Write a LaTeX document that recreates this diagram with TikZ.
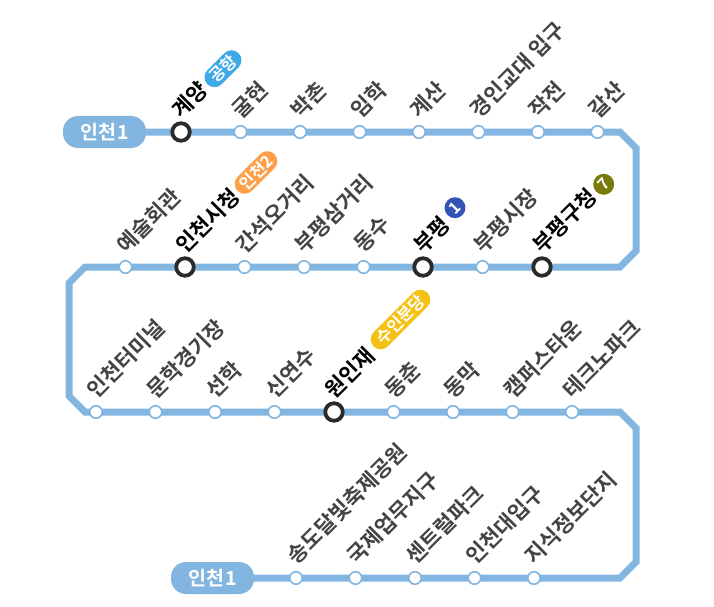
\documentclass[tikz,border=0pt]{standalone}
\usepackage{fontspec}
\setmainfont{Noto Sans CJK KR}
\newfontfamily\krbold{Noto Sans CJK KR Bold}
\newfontfamily\krmed{Noto Sans CJK KR Medium}
\definecolor{linecol}{HTML}{82B6E1}
\definecolor{labelgray}{HTML}{444444}
\definecolor{bigring}{HTML}{2A2A2A}
\definecolor{airport}{HTML}{3FA9E8}
\definecolor{incheontwo}{HTML}{FF9F4A}
\definecolor{suinbundang}{HTML}{F5C116}
\definecolor{lineone}{HTML}{3354B4}
\definecolor{lineseven}{HTML}{7A7A0C}
\tikzset{
  every node/.style={inner sep=0pt,outer sep=0pt},
  route/.style={line width=7pt,draw=linecol,line join=miter},
  smallstn/.style={circle,draw=linecol,line width=1.6pt,fill=white,minimum size=12.5pt},
  bigstn/.style={circle,draw=bigring,line width=3.8pt,fill=white,minimum size=17.5pt},
  grayname/.style={anchor=west,rotate=45,text=labelgray,font=\krbold\fontsize{21.5}{21.5}\selectfont},
  boldname/.style={anchor=west,rotate=45,text=black,font=\krbold\fontsize{21.5}{21.5}\selectfont},
  endpill/.style={rounded corners=15pt,fill=linecol,text=white,font=\krbold\fontsize{19.5}{19.5}\selectfont,minimum width=83pt,minimum height=32pt},
  tagpill/.style={rounded corners=10pt,rotate=45,text=white,font=\krbold\fontsize{16.5}{16.5}\selectfont,minimum height=20pt},
  tagdot/.style={circle,minimum size=20pt,text=white,font=\krbold\fontsize{16}{16}\selectfont},
}
\newcommand{\smallstop}[4]{%
  \node[smallstn] (#1) at (#2,#3) {};
  \node[grayname] (#1-name) at (#2-5,#3-18.5) {#4};}
\newcommand{\bigstop}[4]{%
  \node[bigstn] (#1) at (#2,#3) {};
  \node[boldname] (#1-name) at (#2-5,#3-18.5) {#4};}
\begin{document}
\begin{tikzpicture}[x=1pt,y=-1pt]
\useasboundingbox (0,0) rectangle (714,607);
\node[endpill] (startpill) at (104.5,132) {인천\kern1pt 1};
\node[endpill] (endpill) at (212.5,578) {인천\kern1pt 1};
\coordinate (c1) at (620,132);
\coordinate (c2) at (636,148);
\coordinate (c3) at (636,251);
\coordinate (c4) at (620,267);
\coordinate (c5) at (85,267);
\coordinate (c6) at (69,283);
\coordinate (c7) at (69,396);
\coordinate (c8) at (85,412);
\coordinate (c9) at (620,412);
\coordinate (c10) at (636,428);
\coordinate (c11) at (636,562);
\coordinate (c12) at (620,578);
\draw[route] (startpill.east) -- (c1) -- (c2) -- (c3) -- (c4) -- (c5) -- (c6) -- (c7) -- (c8) -- (c9) -- (c10) -- (c11) -- (c12) -- (endpill.east);
% row 1
\bigstop{a1}{181}{132}{계양}
\smallstop{a2}{240.5}{132}{굴현}
\smallstop{a3}{300}{132}{박촌}
\smallstop{a4}{359.5}{132}{임학}
\smallstop{a5}{419}{132}{계산}
\smallstop{a6}{478.5}{132}{경인교대 입구}
\smallstop{a7}{538}{132}{작전}
\smallstop{a8}{597.5}{132}{갈산}
% row 2
\smallstop{b1}{125.5}{267}{예술회관}
\bigstop{b2}{185}{267}{인천시청}
\smallstop{b3}{244.5}{267}{간석오거리}
\smallstop{b4}{304}{267}{부평삼거리}
\smallstop{b5}{363.5}{267}{동수}
\bigstop{b6}{423}{267}{부평}
\smallstop{b7}{482.5}{267}{부평시장}
\bigstop{b8}{542}{267}{부평구청}
% row 3
\smallstop{d1}{96}{412}{인천터미널}
\smallstop{d2}{155.5}{412}{문학경기장}
\smallstop{d3}{215}{412}{선학}
\smallstop{d4}{274.5}{412}{신연수}
\bigstop{d5}{334}{412}{원인재}
\smallstop{d6}{393.5}{412}{동춘}
\smallstop{d7}{453}{412}{동막}
\smallstop{d8}{512.5}{412}{캠퍼스타운}
\smallstop{d9}{572}{412}{테크노파크}
% row 4
\smallstop{e1}{296}{578}{송도달빛축제공원}
\smallstop{e2}{355.5}{578}{국제업무지구}
\smallstop{e3}{415}{578}{센트럴파크}
\smallstop{e4}{474.5}{578}{인천대입구}
\smallstop{e5}{534}{578}{지식정보단지}
% transfer tags
\node[tagpill,fill=airport,minimum width=44pt] (tag-a1) at (223,68.7) {공항};
\node[tagpill,fill=incheontwo,minimum width=52pt] (tag-b2) at (256,172.5) {인천2};
\node[tagpill,fill=suinbundang,minimum width=76pt] (tag-d5) at (400.5,319.5) {수인분당};
\node[tagdot,fill=lineone] (tag-b6) at (455,207.7) {\rotatebox{45}{1}};
\node[tagdot,fill=lineseven] (tag-b8) at (603.7,184.3) {\rotatebox{45}{7}};
\end{tikzpicture}
\end{document}
